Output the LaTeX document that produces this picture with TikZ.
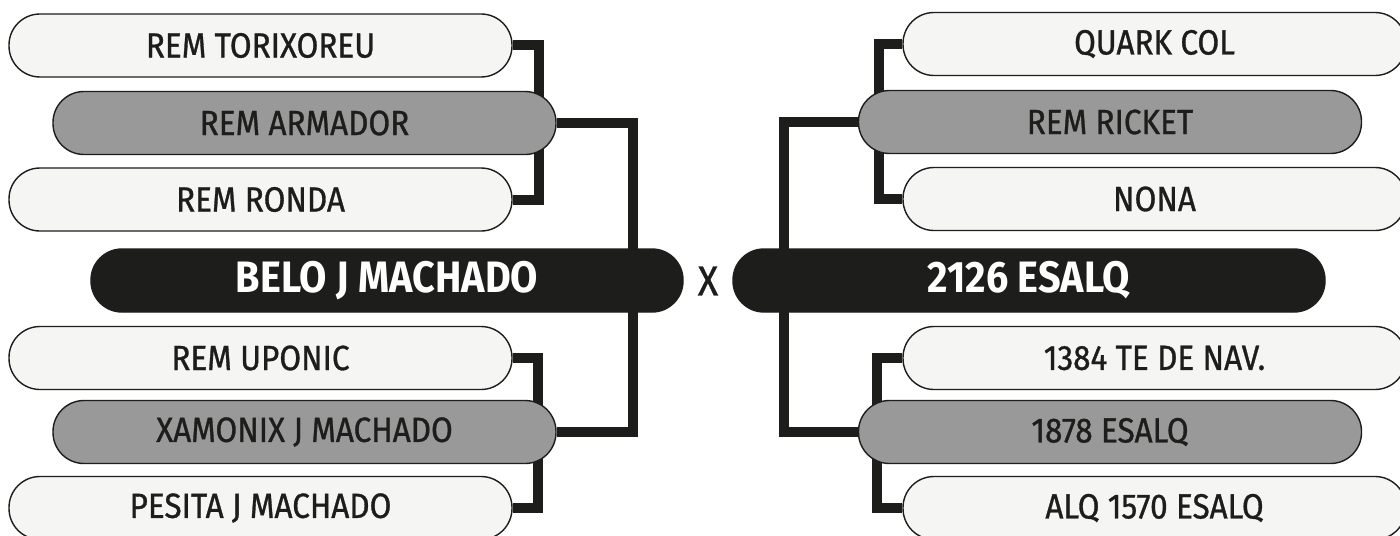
\documentclass[tikz,border=0pt]{standalone}
\usepackage{fontspec}
\setmainfont{Fira Sans}[FakeStretch=0.90, UprightFeatures={FakeBold=0.9}]
\usetikzlibrary{backgrounds}
\definecolor{ink}{HTML}{1D1D1B}
\definecolor{pale}{HTML}{F5F5F3}
\definecolor{mid}{HTML}{999999}
\tikzset{
  pill/.style={draw=ink, line width=0.7pt, rounded corners=15.5pt,
    minimum width=251.5pt, minimum height=31.5pt, inner sep=0pt,
    font=\fontsize{17.5}{17.5}\selectfont, text=ink},
  lightpill/.style={pill, fill=pale},
  graypill/.style={pill, fill=mid},
  finalpill/.style={pill, fill=ink, minimum width=296pt, text=white,
    font=\bfseries\fontsize{22}{22}\selectfont},
  conn/.style={draw=ink, line width=5pt, line join=miter},
}
\begin{document}
\begin{tikzpicture}[x=0.5pt,y=-0.5pt]
\useasboundingbox (0,0) rectangle (1400,535);
\clip (0,0) rectangle (1400,535);
% left side
\node[lightpill] (l1) at (260.5,45.5) {REM TORIXOREU};
\node[graypill]  (l2) at (304.5,123) {REM ARMADOR};
\node[lightpill] (l3) at (260.5,199.5) {REM RONDA};
\node[lightpill] (l4) at (260.5,358) {REM UPONIC};
\node[graypill]  (l5) at (304.5,432) {XAMONIX J MACHADO};
\node[lightpill] (l6) at (260.5,508) {PESITA J MACHADO};
% right side
\node[lightpill] (r1) at (1154.5,44) {QUARK COL};
\node[graypill]  (r2) at (1110,122) {REM RICKET};
\node[lightpill] (r3) at (1154.5,199) {NONA};
\node[lightpill] (r4) at (1154.5,358) {1384 TE DE NAV.};
\node[graypill]  (r5) at (1110,432) {1878 ESALQ};
\node[lightpill] (r6) at (1154.5,508) {ALQ 1570 ESALQ};
% finals
\node[finalpill] (fl) at (387,280.5) {BELO J MACHADO};
\node[finalpill] (fr) at (1029,280.5) {2126 ESALQ};
\node[text=ink, font=\fontsize{21}{21}\selectfont] (vs) at (708,281) {X};
\begin{scope}[on background layer]
\fill[white] (0,0) rectangle (1400,535);
\draw[conn] (l1.east) -- ++(26,0) |- (l3.east);
\draw[conn] (l4.east) -- ++(25,0) |- (l6.east);
\draw[conn] (l2.east) -- ++(76,0) |- (l5.east);
\draw[conn] (r1.west) -- ++(-23,0) |- (r3.west);
\draw[conn] (r4.west) -- ++(-25,0) |- (r6.west);
\draw[conn] (r2.west) -- ++(-74,0) |- (r5.west);
\end{scope}
\end{tikzpicture}
\end{document}
